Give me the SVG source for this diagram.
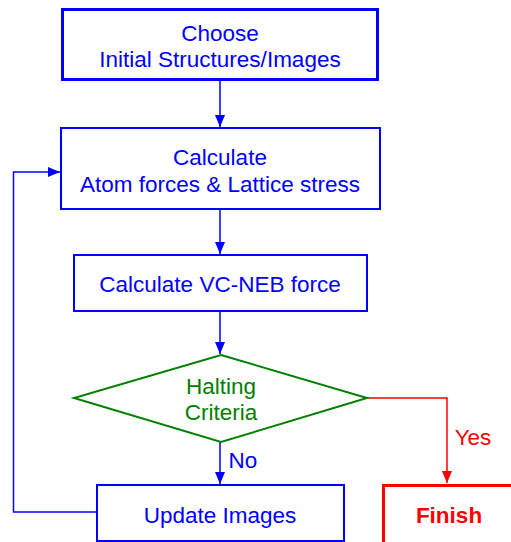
<svg xmlns="http://www.w3.org/2000/svg" width="511" height="542" viewBox="0 0 511 542">
  <style>
    text { font-family: "Liberation Sans", Arial, sans-serif; font-size: 22.5px; text-anchor: middle; }
    .blue { fill: #0000ff; }
    .green { fill: #008000; }
    .red { fill: #ff0000; }
    .box { fill: #ffffff; stroke: #0000ff; stroke-width: 2; }
    .thick { stroke-width: 3; }
    .link { fill: none; stroke: #0000ff; stroke-width: 1.5; }
    .link-red { fill: none; stroke: #ff0000; stroke-width: 1.5; }
  </style>
  <defs>
    <marker id="arrow-blue" markerUnits="userSpaceOnUse" markerWidth="12" markerHeight="10" refX="12" refY="5" orient="auto">
      <path d="M0,0 L12,5 L0,10 Z" fill="#0000ff"/>
    </marker>
    <marker id="arrow-red" markerUnits="userSpaceOnUse" markerWidth="12" markerHeight="10" refX="12" refY="5" orient="auto">
      <path d="M0,0 L12,5 L0,10 Z" fill="#ff0000"/>
    </marker>
  </defs>

  <g id="connectors">
    <line class="link" x1="220" y1="81" x2="220" y2="127" marker-end="url(#arrow-blue)"/>
    <line class="link" x1="220" y1="209" x2="220" y2="254" marker-end="url(#arrow-blue)"/>
    <line class="link" x1="220" y1="311" x2="220" y2="354" marker-end="url(#arrow-blue)"/>
    <line class="link" x1="220" y1="442" x2="220" y2="484" marker-end="url(#arrow-blue)"/>
    <polyline class="link" points="96,512 13.5,512 13.5,172 60,172" marker-end="url(#arrow-blue)"/>
    <polyline class="link-red" points="367,398 447,398 447,483" marker-end="url(#arrow-red)"/>
    <text class="blue" x="243" y="468">No</text>
    <text class="red" x="473" y="445">Yes</text>
  </g>

  <g id="choose">
    <rect class="box thick" x="62.5" y="9.5" width="315" height="70"/>
    <text class="blue" x="220" y="41">Choose</text>
    <text class="blue" x="220" y="67">Initial Structures/Images</text>
  </g>

  <g id="calculate-forces">
    <rect class="box" x="61" y="128" width="319" height="81"/>
    <text class="blue" x="220" y="165">Calculate</text>
    <text class="blue" x="220" y="192">Atom forces &amp; Lattice stress</text>
  </g>

  <g id="calculate-neb">
    <rect class="box" x="74" y="255" width="293" height="56"/>
    <text class="blue" x="220" y="292">Calculate VC-NEB force</text>
  </g>

  <g id="halting">
    <polygon points="221,355 367,398 221,442 74,398" fill="#ffffff" stroke="#008000" stroke-width="2"/>
    <text class="green" x="221" y="394">Halting</text>
    <text class="green" x="221" y="420">Criteria</text>
  </g>

  <g id="update">
    <rect class="box" x="97" y="485" width="247" height="56"/>
    <text class="blue" x="220" y="523">Update Images</text>
  </g>

  <g id="finish">
    <rect x="383.5" y="485.5" width="135" height="60" fill="#ffffff" stroke="#ff0000" stroke-width="3"/>
    <text class="red" x="449" y="523" font-weight="bold">Finish</text>
  </g>
</svg>
